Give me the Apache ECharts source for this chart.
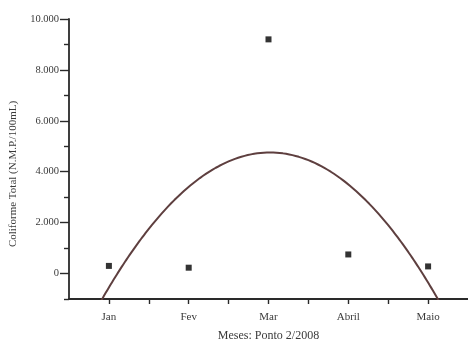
<!DOCTYPE html>
<html>
<head>
<meta charset="utf-8">
<script src="https://cdn.jsdelivr.net/npm/echarts@6/dist/echarts.min.js"></script>
<style>
  html, body { margin: 0; padding: 0; background: #fff; }
  #chart { width: 468px; height: 347px; }
</style>
</head>
<body>
<div id="chart"></div>
<script>
// Monthly total coliform counts, sampling point 2, 2008
const months = ['Jan', 'Fev', 'Mar', 'Abril', 'Maio'];
const monthPos = [1, 2, 3, 4, 5];
const coliform = [300, 230, 9200, 750, 280];

// Y scale: labelled (major) ticks and the short ticks in between
const yMajorTicks = [0, 2000, 4000, 6000, 8000, 10000];
const yMinorTicks = [-1000, 1000, 3000, 5000, 7000, 9000];

// Second-order least-squares trend through the monthly values
function quadFit(xs, ys) {
  const S = [0, 0, 0, 0, 0], T = [0, 0, 0];
  xs.forEach((x, i) => {
    for (let k = 0; k < 5; k++) S[k] += Math.pow(x, k);
    for (let k = 0; k < 3; k++) T[k] += ys[i] * Math.pow(x, k);
  });
  const A = [[S[0], S[1], S[2], T[0]], [S[1], S[2], S[3], T[1]], [S[2], S[3], S[4], T[2]]];
  for (let c = 0; c < 3; c++) {
    for (let r = c + 1; r < 3; r++) {
      const f = A[r][c] / A[c][c];
      for (let k = c; k < 4; k++) A[r][k] -= f * A[c][k];
    }
  }
  const b = [0, 0, 0];
  for (let r = 2; r >= 0; r--) {
    let s = A[r][3];
    for (let k = r + 1; k < 3; k++) s -= A[r][k] * b[k];
    b[r] = s / A[r][r];
  }
  return x => b[0] + b[1] * x + b[2] * x * x;
}
const trend = quadFit(monthPos, coliform);
const trendLine = [];
for (let x = 0.5; x <= 5.5001; x += 0.02) trendLine.push([x, trend(x)]);

const serif = 'Liberation Serif';
const textColor = '#3a3a3a';
const axisColor = '#2a2a2a';
const fmtThousands = v => String(v).replace(/\B(?=(\d{3})+(?!\d))/g, '.');

const yBase = { type: 'value', min: -1000, max: 10000, interval: 1000, splitLine: { show: false } };

const chart = echarts.init(document.getElementById('chart'), null, { renderer: 'canvas' });
chart.setOption({
  animation: false,
  backgroundColor: '#ffffff',
  grid: { left: 67, right: 0, top: 19, bottom: 38, containLabel: false },
  xAxis: {
    type: 'value',
    min: 0.5, max: 5.5, interval: 0.5,
    splitLine: { show: false },
    axisLine: { onZero: false, lineStyle: { color: axisColor, width: 1.8 } },
    axisTick: { length: 5, lineStyle: { color: axisColor, width: 1.4 } },
    axisLabel: {
      color: textColor, fontFamily: serif, fontSize: 11, margin: 13,
      showMinLabel: false, showMaxLabel: false,
      formatter: v => Number.isInteger(v) && v >= 1 && v <= months.length ? months[v - 1] : ''
    },
    name: 'Meses: Ponto 2/2008',
    nameLocation: 'middle', nameGap: 31,
    nameTextStyle: { color: textColor, fontFamily: serif, fontSize: 12 }
  },
  yAxis: [
    Object.assign({}, yBase, {
      axisLine: { onZero: false, lineStyle: { color: axisColor, width: 1.8 } },
      axisTick: { length: 9, customValues: yMajorTicks, lineStyle: { color: axisColor, width: 1.4 } },
      axisLabel: {
        color: textColor, fontFamily: serif, fontSize: 10.5, margin: 10,
        customValues: yMajorTicks,
        formatter: v => fmtThousands(v)
      },
      name: 'Coliforme Total (N.M.P./100mL)',
      nameLocation: 'middle', nameGap: 50,
      nameTextStyle: { color: textColor, fontFamily: serif, fontSize: 11, padding: [0, 30, 0, 0] }
    }),
    Object.assign({}, yBase, {
      position: 'left',
      axisLine: { show: false },
      axisTick: { length: 5, customValues: yMinorTicks, lineStyle: { color: axisColor, width: 1.4 } },
      axisLabel: { show: false }
    })
  ],
  series: [
    {
      type: 'line',
      data: trendLine,
      showSymbol: false,
      clip: true,
      lineStyle: { color: '#5e3f3f', width: 2 },
      z: 2
    },
    {
      type: 'scatter',
      data: monthPos.map((m, i) => [m, coliform[i]]),
      symbol: 'rect',
      symbolSize: 6,
      itemStyle: { color: '#000' },
      z: 3
    }
  ]
});
</script>
</body>
</html>
